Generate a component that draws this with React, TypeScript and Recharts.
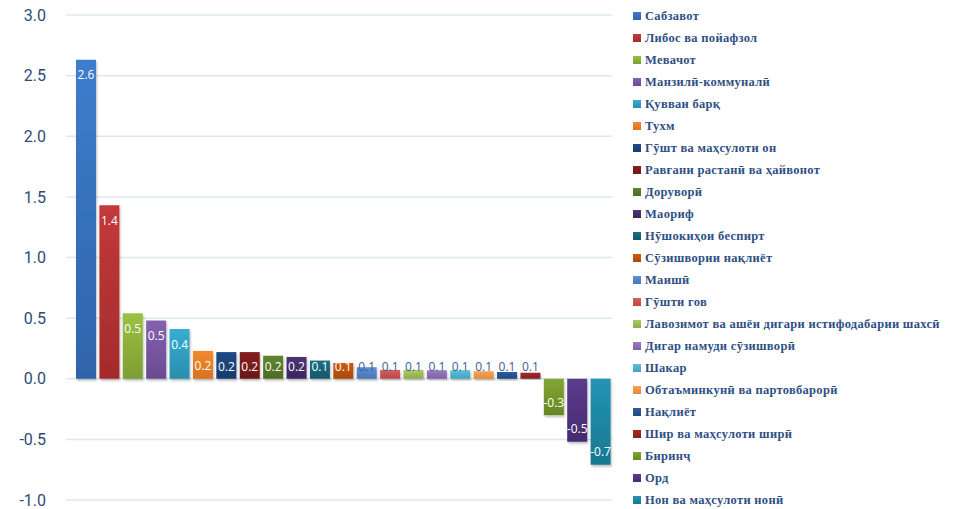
import React from 'react';
import { BarChart, Bar, XAxis, YAxis, CartesianGrid, Cell, LabelList } from 'recharts';

const categories = [
  'Сабзавот',
  'Либос ва пойафзол',
  'Мевачот',
  'Манзилӣ-коммуналӣ',
  'Қувваи барқ',
  'Тухм',
  'Гӯшт ва маҳсулоти он',
  'Равғани растанӣ ва ҳайвонот',
  'Доруворӣ',
  'Маориф',
  'Нӯшокиҳои беспирт',
  'Сӯзишвории нақлиёт',
  'Маишӣ',
  'Гӯшти гов',
  'Лавозимот ва ашёи дигари истифодабарии шахсӣ',
  'Дигар намуди сӯзишворӣ',
  'Шакар',
  'Обтаъминкунӣ ва партовбарорӣ',
  'Нақлиёт',
  'Шир ва маҳсулоти ширӣ',
  'Биринҷ',
  'Орд',
  'Нон ва маҳсулоти нонӣ',
];

const values = [
  2.63, 1.43, 0.54, 0.48, 0.41, 0.23, 0.22, 0.22, 0.19, 0.18, 0.15, 0.13,
  0.095, 0.073, 0.073, 0.07, 0.07, 0.062, 0.056, 0.05, -0.3, -0.52, -0.71,
];

const labels = [
  '2.6', '1.4', '0.5', '0.5', '0.4', '0.2', '0.2', '0.2', '0.2', '0.2', '0.1', '0.1',
  '0.1', '0.1', '0.1', '0.1', '0.1', '0.1', '0.1', '0.1', '-0.3', '-0.5', '-0.7',
];

// top / bottom colours of each bar's gradient
const topColors = [
  '#3d7dcc', '#c23a3a', '#9cc043', '#8462ad', '#36aed0', '#f38a2c', '#1f4b84', '#86201f',
  '#628530', '#4d3375', '#1b6e84', '#cc5a12', '#5d90d4', '#d45f5f', '#acca63', '#9c7cc4',
  '#5ac0dc', '#f8a254', '#2c5c9c', '#a42a2a', '#84a634', '#5c3c8c', '#2294b4',
];
const bottomColors = [
  '#2f64aa', '#a52b2b', '#7d9e32', '#6a4a92', '#2a8eae', '#d87222', '#173b6a', '#6c1818',
  '#4e6b22', '#3b2660', '#14586a', '#a8480c', '#4876b8', '#b84848', '#8eaa4a', '#7e60a6',
  '#44a2bc', '#e08a3c', '#1f4880', '#861e1e', '#678624', '#462a70', '#187892',
];

const yTicks = [-1, -0.5, 0, 0.5, 1, 1.5, 2, 2.5, 3];

const data = categories.map((name, i) => ({ name, value: values[i], label: labels[i] }));

const BarLabel = (props: any) => {
  const { x, y, width, height, index } = props;
  const v = values[index];
  const top = Math.min(y, y + height);
  const bottom = Math.max(y, y + height);
  const h = bottom - top;
  let cy: number;
  if (v >= 0) {
    cy = Math.min(top + 15, bottom - 12);
  } else {
    cy = Math.max(top + 12, bottom - 13);
  }
  return (
    <text
      x={x + width / 2}
      y={cy}
      textAnchor="middle"
      dominantBaseline="central"
      fontFamily="'Open Sans', sans-serif"
      fontSize={12}
      fill={h >= 14 ? '#ffffff' : '#3a5c8e'}
    >
      {labels[index]}
    </text>
  );
};

const LegendBox = () => (
  <div
    style={{
      position: 'absolute',
      left: 633,
      top: 5,
      fontFamily: "'Liberation Serif', serif",
      fontWeight: 'bold',
      fontSize: 12.5,
      color: '#2f4f84',
    }}
  >
    {categories.map((c, i) => (
      <div key={c} style={{ height: 22, display: 'flex', alignItems: 'center', whiteSpace: 'nowrap' }}>
        <span
          style={{
            display: 'inline-block',
            width: 8,
            height: 8,
            marginRight: 4,
            background: `linear-gradient(${topColors[i]}, ${bottomColors[i]})`,
          }}
        />
        <span style={{ letterSpacing: 0.3 }}>{c}</span>
      </div>
    ))}
  </div>
);

export default function App() {
  return (
    <div style={{ position: 'absolute', left: 0, top: 0, width: 957, height: 509, background: '#fff' }}>
      <BarChart width={625} height={509} data={data} margin={{ top: 15, right: 13, bottom: 9, left: 0 }}>
        <defs>
          {topColors.map((c, i) => (
            <linearGradient key={i} id={`g${i}`} x1="0" y1="0" x2="0" y2="1">
              <stop offset="0%" stopColor={c} />
              <stop offset="100%" stopColor={bottomColors[i]} />
            </linearGradient>
          ))}
          <filter id="shadow" x="-20%" y="-20%" width="140%" height="140%">
            <feDropShadow dx="1" dy="2" stdDeviation="1.2" floodColor="#000" floodOpacity="0.25" />
          </filter>
        </defs>
        <CartesianGrid horizontal vertical={false} stroke="#dce7f3" strokeWidth={1.5} />
        <XAxis dataKey="name" hide padding={{ left: 8, right: 0 }} />
        <YAxis
          width={66}
          domain={[-1, 3]}
          ticks={yTicks}
          interval={0}
          axisLine={false}
          tickLine={false}
          tickMargin={14}
          tickFormatter={(v: number) => v.toFixed(1)}
          tick={{ fill: '#2e4a78', fontSize: 16, fontFamily: 'Roboto, sans-serif' }}
        />
        <Bar dataKey="value" barSize={20} isAnimationActive={false} filter="url(#shadow)">
          {data.map((d, i) => (
            <Cell key={d.name} fill={`url(#g${i})`} />
          ))}
          <LabelList dataKey="label" content={<BarLabel />} />
        </Bar>
      </BarChart>
      <LegendBox />
    </div>
  );
}
